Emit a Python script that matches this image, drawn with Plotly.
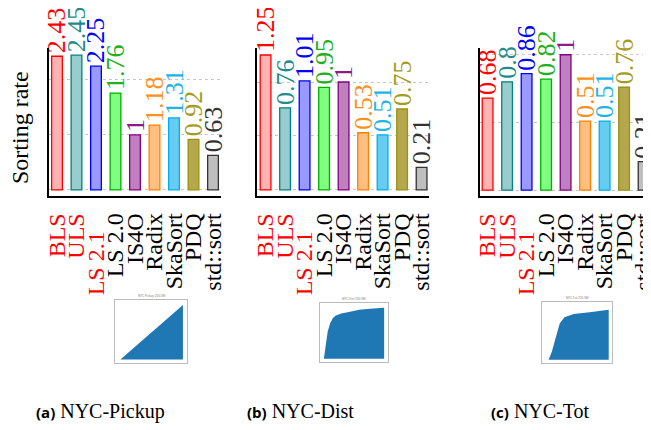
import plotly.graph_objects as go

categories = ["BLS", "ULS", "LS 2.1", "LS 2.0", "IS4O", "Radix", "SkaSort", "PDQ", "std::sort"]
label_colors = ["#FF0000", "#FF0000", "#FF0000", "#000000", "#000000", "#000000", "#000000", "#000000", "#000000"]
label_pad = [0, 0, 3, 0, 0, 0, 0, 0, 0]
pickup_rate = [2.43, 2.45, 2.25, 1.76, 1, 1.18, 1.31, 0.92, 0.63]
dist_rate = [1.25, 0.76, 1.01, 0.95, 1, 0.53, 0.51, 0.75, 0.21]
tot_rate = [0.68, 0.8, 0.86, 0.82, 1, 0.51, 0.51, 0.76, 0.21]
edge_colors = ["#FF0000", "#008080", "#0000FF", "#00B000", "#800080", "#FF8000", "#00AEEF", "#9A9210", "#333333"]
fill_colors = ["#FFB3B3", "#99CCCC", "#9999FF", "#80FF80", "#BF80BF", "#FFBF80", "#66CCF2", "#B5A84C", "#BFBFBF"]
text_colors = ["#FF0000", "#1E8C8C", "#0000FF", "#20B020", "#8B1A8B", "#FF9020", "#1EB4E6", "#A49C20", "#333333"]
captions = [("(a)", "NYC-Pickup"), ("(b)", "NYC-Dist"), ("(c)", "NYC-Tot")]
inset_titles = ["NYC-Pickup 200.0M", "NYC-Dist 200.0M", "NYC-Tot 200.0M"]

# inset CDF-like curves (read from the small thumbnails)
inset_a_t = [0.05, 0.97, 0.97]
inset_a_v = [0.0, 0.97, 0.0]
inset_b_t = [0.03, 0.06, 0.09, 0.13, 0.17, 0.21, 0.30, 0.42, 0.58, 0.75, 0.97, 0.97]
inset_b_v = [0.0, 0.30, 0.52, 0.68, 0.77, 0.82, 0.86, 0.89, 0.93, 0.95, 0.97, 0.0]
inset_c_t = [0.07, 0.12, 0.17, 0.21, 0.24, 0.31, 0.45, 0.69, 0.98, 0.98]
inset_c_v = [0.0, 0.15, 0.37, 0.55, 0.67, 0.78, 0.84, 0.87, 0.92, 0.0]

SERIF = "Liberation Serif"
# the page body has an 8px margin; figure is sized to fill the rest of the window
OFF = 8
W, H = 651 - OFF, 430 - OFF


def px(x):
    return min(1.0, max(0.0, (x - OFF) / W))


def py(y):
    return min(1.0, max(0.0, 1 - (y - OFF) / H))


fig = go.Figure()

panels = [
    (pickup_rate, [px(49), px(221)], [-0.41, 8.41], [-0.11, 2.58], 1),
    (dist_rate, [px(257), px(429)], [-0.44, 8.38], [-0.056, 1.315], 0.5),
    (tot_rate, [px(480), px(651)], [-0.39, 8.38], [-0.044, 1.05], 0.5),
]
ydom = [py(196), py(48)]
ticktext = [f"<span style='color:{c}'>{t}{'&nbsp;' * p}</span>"
            for t, c, p in zip(categories, label_colors, label_pad)]

for i, (vals, xdom, xr, yr, dt) in enumerate(panels):
    n = "" if i == 0 else str(i + 1)
    fig.add_trace(go.Bar(
        x=categories, y=vals, width=0.55,
        marker=dict(color=fill_colors, line=dict(color=edge_colors, width=1.3)),
        text=[f"{v:g}" for v in vals], textposition="outside", textangle=-90,
        textfont=dict(family=SERIF, size=26, color=text_colors),
        constraintext="none", cliponaxis=False,
        xaxis="x" + n, yaxis="y" + n, showlegend=False, hoverinfo="skip",
    ))
    fig.layout["xaxis" + n] = dict(
        domain=xdom, range=xr, type="category", categoryorder="array", categoryarray=categories,
        anchor="y" + n, showline=True, linecolor="black", linewidth=1.5, showgrid=False,
        ticks="", tickangle=-90, tickmode="array", tickvals=categories, ticktext=ticktext,
        tickfont=dict(family=SERIF, size=24, color="black"), ticklabelstandoff=6,
        automargin=False, zeroline=False,
    )
    fig.layout["yaxis" + n] = dict(
        domain=ydom, range=yr, anchor="x" + n, showline=True, linecolor="black", linewidth=1.5,
        showgrid=True, gridcolor="#C8C8C8", griddash="dot", gridwidth=1, tick0=0, dtick=dt,
        showticklabels=False, ticks="", zeroline=False, automargin=False,
    )

# insets
inset_frames = [
    ([px(115), px(187)], [py(363), py(300)], inset_a_t, inset_a_v),
    ([px(320), px(388)], [py(362), py(303)], inset_b_t, inset_b_v),
    ([px(542), px(612)], [py(363), py(302)], inset_c_t, inset_c_v),
]
for j, (xd, yd, tt, vv) in enumerate(inset_frames):
    k = str(j + 4)
    fig.add_trace(go.Scatter(
        x=tt, y=vv, mode="lines", fill="toself", fillcolor="#1F77B4",
        line=dict(width=0, color="#1F77B4"), xaxis="x" + k, yaxis="y" + k,
        showlegend=False, hoverinfo="skip",
    ))
    fig.layout["xaxis" + k] = dict(domain=xd, range=[-0.03, 1.03], anchor="y" + k, showline=True,
                                   mirror=True, linecolor="#BBBBBB", linewidth=1, showgrid=False,
                                   showticklabels=False, ticks="", zeroline=False)
    fig.layout["yaxis" + k] = dict(domain=yd, range=[-0.06, 1.06], anchor="x" + k, showline=True,
                                   mirror=True, linecolor="#BBBBBB", linewidth=1, showgrid=True,
                                   gridcolor="rgba(255,255,255,0.5)", griddash="dot", dtick=0.4, tick0=0.1,
                                   showticklabels=False, ticks="", zeroline=False)
    fig.add_annotation(text=inset_titles[j], x=(xd[0] + xd[1]) / 2, y=yd[1], xref="paper", yref="paper",
                       xanchor="center", yanchor="bottom", showarrow=False,
                       font=dict(size=3, color="#777777"))

# y axis title
fig.add_annotation(text="Sorting rate", x=px(20), y=py(128), xref="paper", yref="paper",
                   xanchor="center", yanchor="middle",
                   textangle=-90, showarrow=False, font=dict(family=SERIF, size=24, color="black"))

# captions
cap_x = [100, 300, 540]
for (lab, name), cx in zip(captions, cap_x):
    fig.add_annotation(
        text=f"<span style='font-family:Open Sans;font-weight:bold;font-size:15px'>{lab}</span> {name}",
        x=px(cx), y=py(411), xref="paper", yref="paper", showarrow=False,
        xanchor="center", yanchor="middle",
        font=dict(family=SERIF, size=20, color="black"),
    )

fig.update_layout(
    width=W, height=H, margin=dict(l=0, r=0, t=0, b=0),
    paper_bgcolor="white", plot_bgcolor="white", bargap=0.45,
)

fig.write_html("out.html")
